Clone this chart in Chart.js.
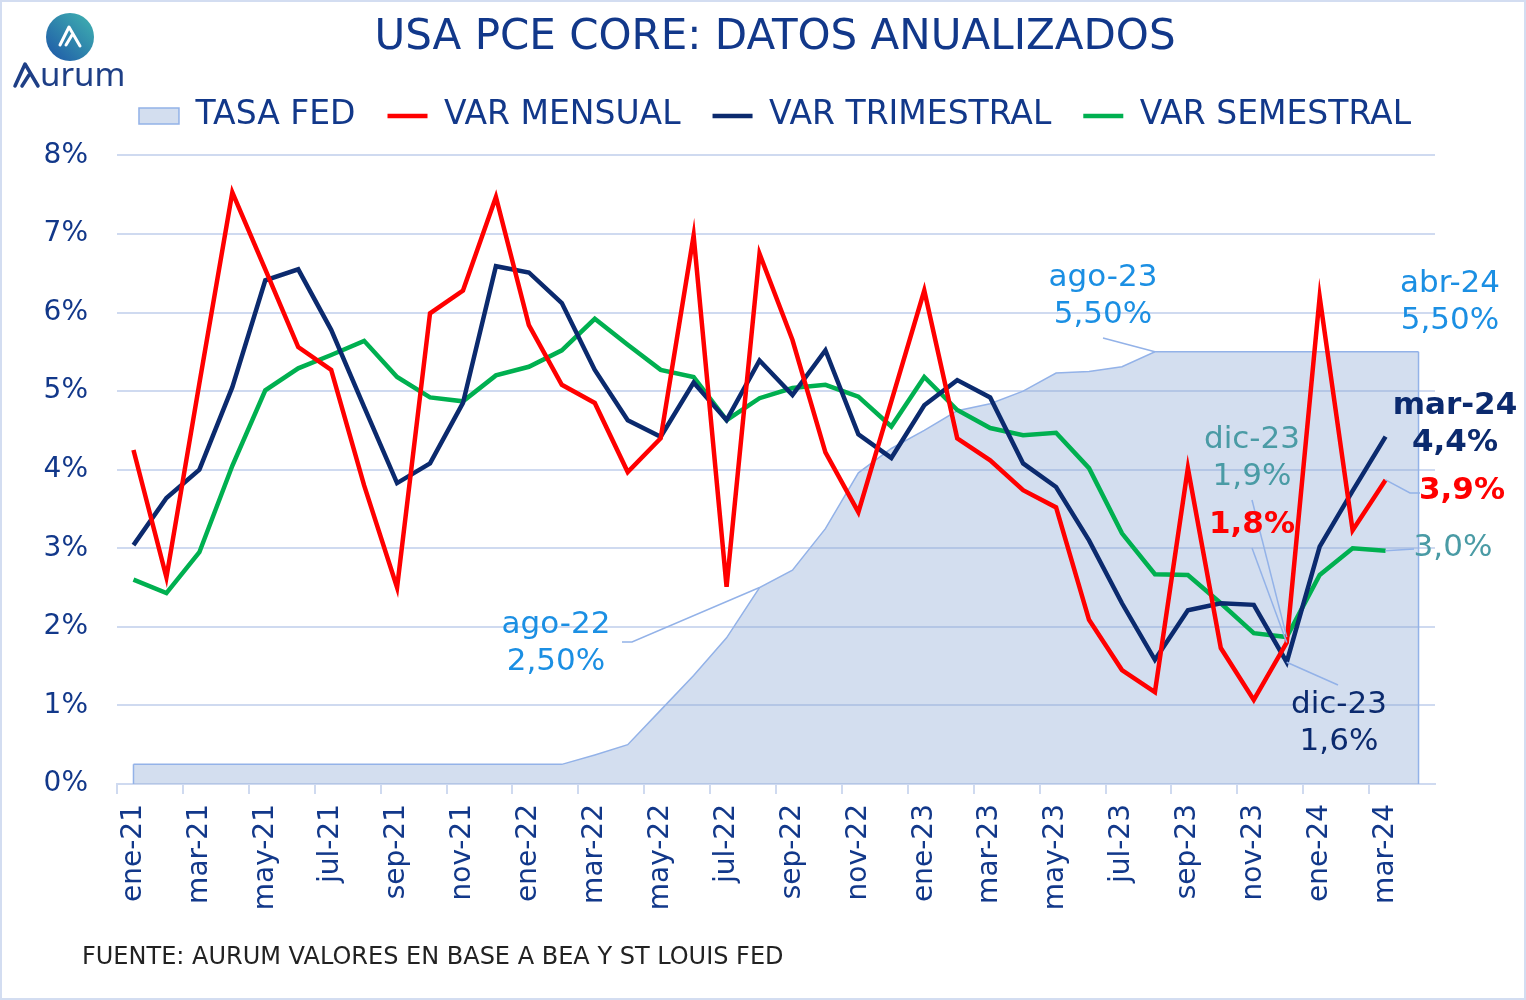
<!DOCTYPE html>
<html>
<head>
<meta charset="utf-8">
<script src="https://cdn.jsdelivr.net/npm/chart.js@4.4.1/dist/chart.umd.min.js"></script>
<style>
  body { margin: 0; background: #fff; }
  #wrap { width: 1526px; height: 1000px; }
</style>
</head>
<body>
<div id="wrap"><canvas id="pceChart" width="1526" height="1000"></canvas></div>
<script>
// months ene-21 .. abr-24
const months = [
  'ene-21','feb-21','mar-21','abr-21','may-21','jun-21','jul-21','ago-21','sep-21','oct-21','nov-21','dic-21',
  'ene-22','feb-22','mar-22','abr-22','may-22','jun-22','jul-22','ago-22','sep-22','oct-22','nov-22','dic-22',
  'ene-23','feb-23','mar-23','abr-23','may-23','jun-23','jul-23','ago-23','sep-23','oct-23','nov-23','dic-23',
  'ene-24','feb-24','mar-24','abr-24'
];

// fed funds upper bound, monthly average
const tasaFed = [
  0.25,0.25,0.25,0.25,0.25,0.25,0.25,0.25,0.25,0.25,0.25,0.25,
  0.25,0.25,0.37,0.50,0.94,1.38,1.86,2.50,2.72,3.25,3.96,4.27,
  4.50,4.75,4.84,5.00,5.23,5.25,5.31,5.50,5.50,5.50,5.50,5.50,
  5.50,5.50,5.50,5.50
];

const varMensual = [
  4.25,2.63,5.10,7.53,6.55,5.56,5.27,3.80,2.50,5.99,6.28,7.47,
  5.84,5.08,4.85,3.97,4.40,6.98,2.51,6.75,5.65,4.22,3.46,4.87,
  6.28,4.40,4.12,3.74,3.52,2.09,1.45,1.17,4.02,1.73,1.07,1.80,
  6.20,3.23,3.87,null
];

const varTrimestral = [
  3.04,3.64,4.00,5.05,6.41,6.55,5.78,4.80,3.83,4.08,4.85,6.59,
  6.51,6.12,5.27,4.63,4.42,5.11,4.63,5.39,4.95,5.52,4.45,4.15,
  4.82,5.14,4.92,4.08,3.78,3.10,2.30,1.58,2.21,2.30,2.28,1.55,
  3.02,3.73,4.42,null
];

const varSemestral = [
  2.60,2.43,2.95,4.05,5.01,5.29,5.46,5.64,5.18,4.92,4.87,5.20,
  5.31,5.52,5.92,5.59,5.27,5.18,4.63,4.91,5.04,5.08,4.93,4.55,
  5.18,4.76,4.53,4.44,4.47,4.02,3.19,2.67,2.66,2.30,1.92,1.87,
  2.66,3.00,2.97,null
];

const yTicks = [0, 1, 2, 3, 4, 5, 6, 7, 8];

const FONT = "'DejaVu Sans', sans-serif";
const NAVY_TXT = '#12388a';
const NAVY = '#0b2a6e';
const RED = '#ff0000';
const GREEN = '#00b050';
const BLUE_TXT = '#1b8fe3';
const TEAL = '#4a9ba5';
const GRID = '#cfdaf0';
const LEADER = '#93b2e8';

Chart.defaults.font.family = FONT;

// callouts: text position is layout, anchor comes from the data
const notes = [
  { text: ['ago-22', '2,50%'], color: BLUE_TXT, x: 556, y: 625, path: [[622, 642], [632, 642]], ds: 0, idx: 19 },
  { text: ['ago-23', '5,50%'], color: BLUE_TXT, x: 1103, y: 278, path: [[1103, 338]], ds: 0, idx: 31 },
  { text: ['abr-24', '5,50%'], color: BLUE_TXT, x: 1450, y: 284 },
  { text: ['mar-24', '4,4%'], color: NAVY, x: 1455, y: 406, weight: 600 },
  { text: ['3,9%'], color: RED, x: 1462, y: 491, weight: 600, path: [[1420, 493], [1410, 493]], ds: 1, idx: 38 },
  { text: ['3,0%'], color: TEAL, x: 1453, y: 548, path: [[1414, 549]], ds: 3, idx: 38 },
  { text: ['dic-23', '1,9%'], color: TEAL, x: 1252, y: 440, path: [[1252, 500]], ds: 3, idx: 35 },
  { text: ['1,8%'], color: RED, x: 1252, y: 525, weight: 600, path: [[1252, 548]], ds: 1, idx: 35 },
  { text: ['dic-23', '1,6%'], color: NAVY, x: 1339, y: 705, weight: 500, path: [[1338, 685]], ds: 2, idx: 35 }
];

const legendGap = {
  id: 'legendGap',
  beforeInit(chart) {
    const lg = chart.legend;
    if (!lg) return;
    const fit = lg.fit.bind(lg);
    lg.fit = function () { fit(); this.height += 13; };
  }
};

const extras = {
  id: 'extras',
  afterDatasetsDraw(chart) {
    const ctx = chart.ctx;
    const xs = chart.scales.x, ys = chart.scales.y;
    // side edges of the fed area
    const lastX = xs.getPixelForValue(tasaFed.length - 1);
    ctx.save();
    ctx.strokeStyle = LEADER;
    ctx.lineWidth = 1.5;
    ctx.beginPath();
    ctx.moveTo(lastX, ys.getPixelForValue(tasaFed[tasaFed.length - 1]));
    ctx.lineTo(lastX, ys.getPixelForValue(0));
    ctx.moveTo(xs.getPixelForValue(0), ys.getPixelForValue(tasaFed[0]));
    ctx.lineTo(xs.getPixelForValue(0), ys.getPixelForValue(0));
    ctx.stroke();

    notes.forEach(n => {
      if (n.path) {
        const d = chart.data.datasets[n.ds].data[n.idx];
        ctx.strokeStyle = LEADER;
        ctx.lineWidth = 1.5;
        ctx.beginPath();
        ctx.moveTo(n.path[0][0], n.path[0][1]);
        n.path.slice(1).forEach(p => ctx.lineTo(p[0], p[1]));
        ctx.lineTo(xs.getPixelForValue(n.idx), ys.getPixelForValue(d));
        ctx.stroke();
      }
      ctx.fillStyle = n.color;
      ctx.font = (n.weight || 400) + ' 31px ' + FONT;
      ctx.textAlign = 'center';
      ctx.textBaseline = 'middle';
      n.text.forEach((t, k) => ctx.fillText(t, n.x, n.y + k * 37));
    });
    ctx.restore();
  },
  afterDraw(chart) {
    const ctx = chart.ctx;
    ctx.save();
    // frame
    ctx.strokeStyle = '#d3ddf1';
    ctx.lineWidth = 2;
    ctx.strokeRect(1, 1, 1524, 998);

    // logo
    const g = ctx.createLinearGradient(50, 60, 92, 16);
    g.addColorStop(0, '#1f5aa8');
    g.addColorStop(1, '#3fb0b0');
    ctx.fillStyle = g;
    ctx.beginPath();
    ctx.arc(70, 37, 24, 0, Math.PI * 2);
    ctx.fill();
    ctx.strokeStyle = '#fff';
    ctx.lineWidth = 3;
    ctx.lineJoin = 'round';
    ctx.lineCap = 'round';
    ctx.beginPath();
    ctx.moveTo(60, 45);
    ctx.lineTo(69, 27);
    ctx.lineTo(80, 46);
    ctx.moveTo(66, 45);
    ctx.lineTo(72, 35);
    ctx.stroke();

    ctx.strokeStyle = '#1e3f86';
    ctx.lineWidth = 3.5;
    ctx.beginPath();
    ctx.moveTo(15, 86);
    ctx.lineTo(25, 64);
    ctx.lineTo(38, 86);
    ctx.moveTo(22, 86);
    ctx.lineTo(29, 75);
    ctx.stroke();
    ctx.fillStyle = '#1e3f86';
    ctx.font = "400 33px 'Noto Sans', sans-serif";
    ctx.textAlign = 'left';
    ctx.textBaseline = 'alphabetic';
    ctx.fillText('urum', 40, 86);

    // source
    ctx.fillStyle = '#222';
    ctx.font = '400 24px ' + FONT;
    ctx.textBaseline = 'middle';
    ctx.fillText('FUENTE: AURUM VALORES EN BASE A BEA Y ST LOUIS FED', 82, 958);
    ctx.restore();
  }
};

new Chart(document.getElementById('pceChart'), {
  type: 'line',
  data: {
    labels: months,
    datasets: [
      {
        label: 'TASA FED',
        data: tasaFed,
        fill: 'origin',
        backgroundColor: 'rgba(128,161,210,0.35)',
        borderColor: LEADER,
        borderWidth: 1.5,
        pointRadius: 0,
        pointStyle: 'rect',
        order: 4
      },
      {
        label: 'VAR MENSUAL',
        data: varMensual,
        borderColor: RED,
        backgroundColor: RED,
        borderWidth: 4.5,
        pointRadius: 0,
        pointStyle: 'line',
        order: 1
      },
      {
        label: 'VAR TRIMESTRAL',
        data: varTrimestral,
        borderColor: NAVY,
        backgroundColor: NAVY,
        borderWidth: 4.5,
        pointRadius: 0,
        pointStyle: 'line',
        order: 2
      },
      {
        label: 'VAR SEMESTRAL',
        data: varSemestral,
        borderColor: GREEN,
        backgroundColor: GREEN,
        borderWidth: 4.5,
        pointRadius: 0,
        pointStyle: 'line',
        order: 3
      }
    ]
  },
  options: {
    responsive: false,
    animation: false,
    layout: { padding: { left: 24 } },
    plugins: {
      title: {
        display: true,
        text: 'USA PCE CORE: DATOS ANUALIZADOS',
        color: NAVY_TXT,
        font: { size: 42, weight: '400' },
        padding: { top: 13, bottom: 4 }
      },
      legend: {
        display: true,
        position: 'top',
        labels: {
          color: NAVY_TXT,
          font: { size: 33 },
          usePointStyle: true,
          pointStyleWidth: 40,
          boxHeight: 16,
          padding: 32,
          sort: (a, b) => a.datasetIndex - b.datasetIndex
        }
      },
      tooltip: { enabled: false }
    },
    scales: {
      x: {
        offset: true,
        grid: {
          offset: true,
          drawOnChartArea: false,
          tickLength: 10,
          lineWidth: 2,
          color: c => (c.index % 2 === 0 ? GRID : 'rgba(0,0,0,0)')
        },
        border: { color: GRID, width: 2 },
        ticks: {
          autoSkip: false,
          maxRotation: 90,
          minRotation: 90,
          padding: 10,
          color: NAVY_TXT,
          font: { size: 28 },
          callback: (v, i) => (i % 2 === 0 ? months[i] : '')
        },
        afterFit: s => { s.height = 216; }
      },
      y: {
        min: yTicks[0],
        max: yTicks[yTicks.length - 1],
        afterBuildTicks: s => { s.ticks = yTicks.map(v => ({ value: v })); },
        grid: { color: GRID, lineWidth: 2, drawTicks: false },
        border: { display: false },
        ticks: {
          padding: 29,
          color: NAVY_TXT,
          font: { size: 28 },
          callback: v => v + '%'
        },
        afterFit: s => { s.width = 93; }
      },
      yRight: {
        position: 'right',
        display: true,
        grid: { display: false },
        border: { display: false },
        ticks: { display: false },
        afterFit: s => { s.width = 91; }
      }
    }
  },
  plugins: [legendGap, extras]
});
</script>
</body>
</html>
